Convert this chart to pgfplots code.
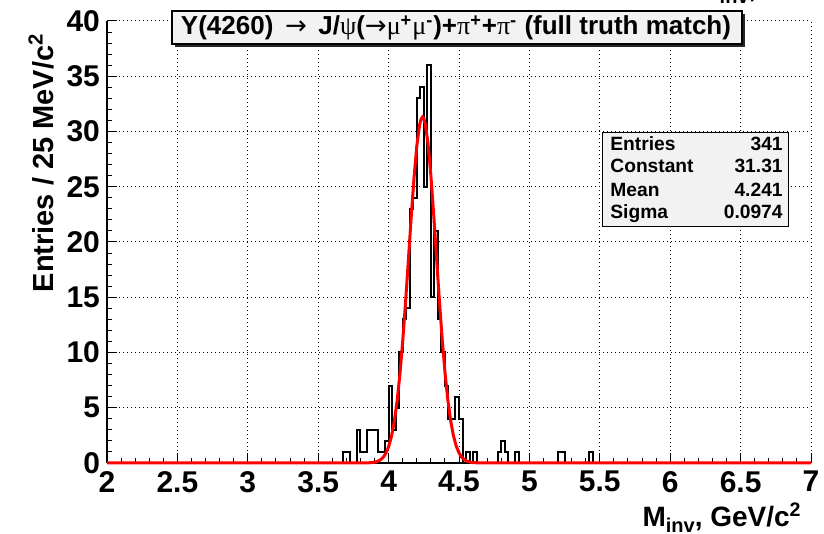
\documentclass[border=0pt]{standalone}
\usepackage{pgfplots}
\pgfplotsset{compat=1.18}
\usepackage{fontspec}
\setmainfont{Liberation Sans}
\newfontfamily\greek{Liberation Serif}
\newfontfamily\arrowfont{DejaVu Sans}

% invariant mass histogram, 25 MeV bins (lower bin edge, entries)
\pgfplotstableread{
x     n
2.000 0
3.675 1
3.700 1
3.725 0
3.775 3
3.800 1
3.825 1
3.850 3
3.875 3
3.900 3
3.925 1
3.950 1
3.975 2
4.000 7
4.025 3
4.050 5
4.075 10
4.100 13
4.125 14
4.150 23
4.175 24
4.200 33
4.225 34
4.250 25
4.275 36
4.300 15
4.325 21
4.350 13
4.375 10
4.400 7
4.425 4
4.450 4
4.475 6
4.500 4
4.525 0
4.550 1
4.575 0
4.600 1
4.625 0
4.775 1
4.800 2
4.825 1
4.850 0
4.900 1
4.925 0
5.200 1
5.225 1
5.250 0
5.425 1
5.450 0
7.000 0
}\minvhist

\newcommand{\mtitle}{M\raisebox{-3pt}{\fontsize{10}{10}\selectfont inv}, GeV/c\textsuperscript{2}}

\begin{document}
\begin{tikzpicture}[x=1pt,y=1pt]
\begin{axis}[
  at={(53.5pt,35.5pt)}, anchor=south west,
  scale only axis, width=352pt, height=221pt,
  xmin=2, xmax=7, ymin=0, ymax=40,
  clip=false,
  axis x line*=bottom, axis y line*=left,
  axis line style={line width=0.6pt},
  xtick={2,2.5,3,3.5,4,4.5,5,5.5,6,6.5,7},
  ytick={0,5,10,15,20,25,30,35,40},
  minor x tick num=4, minor y tick num=4,
  tick align=inside,
  major tick length=5pt, minor tick length=2.5pt,
  tick style={black, line width=0.5pt},
  grid=major,
  major grid style={black, line width=0.5pt, dash pattern=on 0.5pt off 1.5pt},
  /pgf/number format/assume math mode=true,
  ticklabel style={font=\bfseries\fontsize{15}{15}\selectfont},
  xticklabel style={yshift=-0.5pt},
]
\addplot[const plot mark left, black, line width=1pt] table[x=x, y=n] {\minvhist};
% Gaussian fit: constant 31.31, mean 4.241, sigma 0.0974
\addplot[red, line width=1.5pt] coordinates {
(2,0) (3.76,0) (3.80,0.001) (3.84,0.007) (3.88,0.033) (3.90,0.068) (3.92,0.137)
(3.94,0.264) (3.96,0.488) (3.98,0.863) (4.00,1.467) (4.02,2.387) (4.04,3.720)
(4.06,5.567) (4.08,7.987) (4.10,10.98) (4.12,14.47) (4.14,18.29) (4.16,22.16)
(4.18,25.73) (4.20,28.66) (4.22,30.59) (4.23,31.11) (4.241,31.31) (4.25,31.18)
(4.26,30.72) (4.28,28.90) (4.30,26.06) (4.32,22.53) (4.34,18.68) (4.36,14.84)
(4.38,11.31) (4.40,8.262) (4.42,5.787) (4.44,3.885) (4.46,2.499) (4.48,1.543)
(4.50,0.912) (4.52,0.518) (4.54,0.281) (4.56,0.147) (4.58,0.073) (4.60,0.035)
(4.64,0.007) (4.68,0.001) (4.72,0) (7,0)
};
\end{axis}

% axis titles
\node[rotate=90, anchor=base east, font=\bfseries\fontsize{14.5}{14.5}\selectfont, inner sep=0]
  at (26.5pt,250.5pt) {Entries / 25 MeV/c\textsuperscript{2}};
\node[anchor=base east, font=\bfseries\fontsize{14}{14}\selectfont, inner sep=0]
  at (401pt,3.6pt) {\mtitle};
% title of the pad above, cut by the page edge
\node[anchor=base west, font=\bfseries\fontsize{14}{14}\selectfont, inner sep=0]
  at (348pt,268pt) {\mtitle};

% title box with shadow
\fill[black!85] (87.5pt,243.5pt) rectangle (372.5pt,260pt);
\filldraw[fill=black!5, draw=black, line width=0.6pt] (86pt,245pt) rectangle (371pt,261.5pt);
\node[anchor=base, inner sep=0, font=\bfseries\fontsize{13}{13}\selectfont] at (228pt,249.5pt)
  {Y(4260) \,{\mdseries\arrowfont →}\, J/{\mdseries\greek ψ}({\mdseries\arrowfont →}{\mdseries\greek μ}\textsuperscript{+}{\mdseries\greek μ}\textsuperscript{-})+{\mdseries\greek π}\textsuperscript{+}+{\mdseries\greek π}\textsuperscript{-} (full truth match)};

% statistics box
\filldraw[fill=black!5, draw=black, line width=0.5pt] (301pt,153.5pt) rectangle (394pt,200.5pt);
\begin{scope}[every node/.style={inner sep=0, font=\bfseries\fontsize{9.6}{9.6}\selectfont}]
\node[anchor=base west] at (305pt,191.6pt) {Entries};
\node[anchor=base east] at (391.5pt,191.6pt) {341};
\node[anchor=base west] at (305pt,180.5pt) {Constant};
\node[anchor=base east] at (391.5pt,180.5pt) {31.31};
\node[anchor=base west] at (305pt,168.6pt) {Mean};
\node[anchor=base east] at (391.5pt,168.6pt) {4.241};
\node[anchor=base west] at (305pt,157.5pt) {Sigma};
\node[anchor=base east] at (391.5pt,157.5pt) {0.0974};
\end{scope}

\pgfresetboundingbox
\useasboundingbox (0,0) rectangle (412pt,267pt);
\end{tikzpicture}
\end{document}
